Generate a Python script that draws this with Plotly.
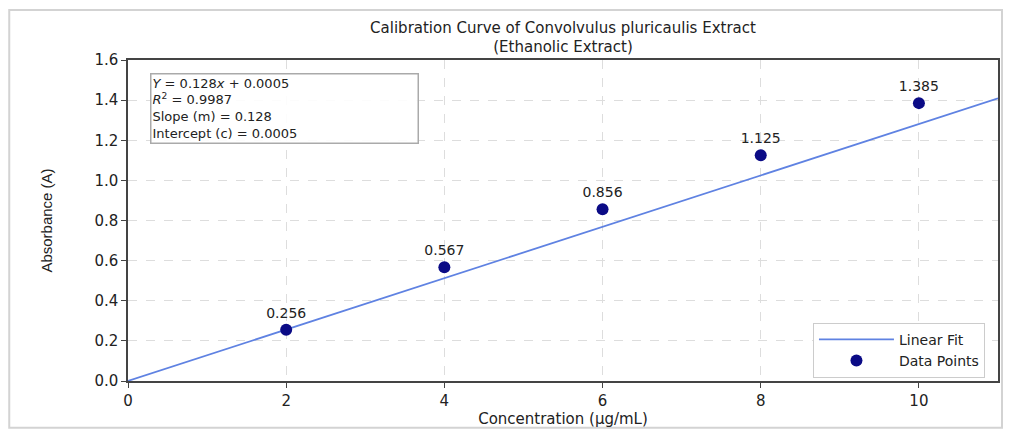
import plotly.graph_objects as go

conc = [2, 4, 6, 8, 10]
absorb = [0.256, 0.567, 0.856, 1.125, 1.385]
labels = ["0.256", "0.567", "0.856", "1.125", "1.385"]
slope = 0.128
intercept = 0.0005
fit_x = [0, 11]
fit_y = [slope * x + intercept for x in fit_x]

FONT = "DejaVu Sans"
fig = go.Figure()
fig.add_trace(go.Scatter(x=fit_x, y=fit_y, mode="lines", name="Linear Fit",
                         line=dict(color="#5f82e2", width=1.8)))
fig.add_trace(go.Scatter(x=conc, y=absorb, mode="markers+text", name="Data Points",
                         marker=dict(color="#0b0b86", size=12),
                         text=labels, textposition="top center",
                         textfont=dict(family=FONT, size=14, color="#222")))

fig.add_annotation(xref="paper", yref="paper", x=0.025, y=0.96, xanchor="left", yanchor="top",
                   align="left", showarrow=False, width=264,
                   text="<i>Y</i> = 0.128<i>x</i> + 0.0005<br><i>R</i><sup>2</sup> = 0.9987<br>Slope (m) = 0.128<br>Intercept (c) = 0.0005",
                   font=dict(family=FONT, size=13, color="#222"),
                   bordercolor="#aaaaaa", borderwidth=1.5, borderpad=1, bgcolor="rgba(255,255,255,0.9)")

# outer frame of the figure
fig.add_shape(type="rect", xref="paper", yref="paper", x0=-0.1365, x1=1.0046, y0=-0.146, y1=1.156,
              line=dict(color="#d3d3d3", width=2), layer="below")

fig.update_layout(
    width=1003, height=426,
    margin=dict(l=120, r=11, t=52, b=53),
    paper_bgcolor="white", plot_bgcolor="white",
    title=dict(text="Calibration Curve of Convolvulus pluricaulis Extract<br>(Ethanolic Extract)",
               xref="paper", x=0.5, xanchor="center", yref="container", y=0.942, yanchor="top",
               font=dict(family=FONT, size=15, color="#222")),
    font=dict(family=FONT, color="#222"),
    legend=dict(x=0.985, y=0.01, xanchor="right", yanchor="bottom",
                bordercolor="#cccccc", borderwidth=1, bgcolor="white", itemwidth=75,
                font=dict(family=FONT, size=14, color="#222"), tracegroupgap=0),
    showlegend=True,
)
fig.update_xaxes(range=[0, 11], tickvals=[0, 2, 4, 6, 8, 10], ticks="outside", ticklen=5,
                 tickcolor="#444", showline=True, linecolor="#444", linewidth=1.5, mirror=True,
                 showgrid=True, gridcolor="#dddddd", griddash="dash", zeroline=False,
                 tickfont=dict(family=FONT, size=15),
                 title=dict(text="Concentration (μg/mL)", font=dict(family=FONT, size=15), standoff=2))
fig.update_yaxes(range=[0, 1.6], tickvals=[0, 0.2, 0.4, 0.6, 0.8, 1.0, 1.2, 1.4, 1.6],
                 tickformat=".1f", ticks="outside", ticklen=5,
                 tickcolor="#444", showline=True, linecolor="#444", linewidth=1.5, mirror=True,
                 showgrid=True, gridcolor="#dddddd", griddash="dash", zeroline=False,
                 tickfont=dict(family=FONT, size=15),
                 title=dict(text="Absorbance (A)", font=dict(family="Liberation Sans Narrow, Liberation Sans", size=15), standoff=38))

fig.write_html("out.html")
